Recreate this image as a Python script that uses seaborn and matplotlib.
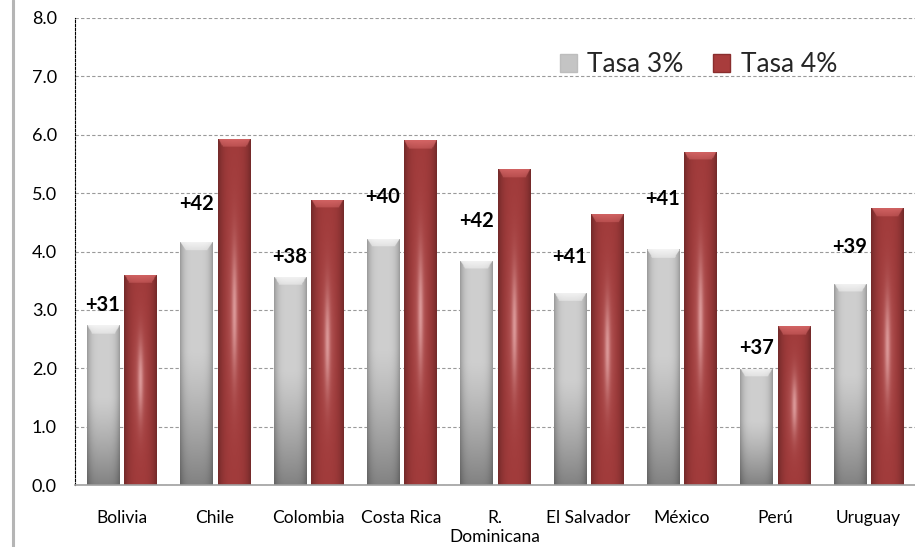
import numpy as np
import pandas as pd
import matplotlib
matplotlib.use("Agg")
import matplotlib.pyplot as plt
import seaborn as sns
from matplotlib.lines import Line2D
from matplotlib.patches import Patch

paises = ["Bolivia", "Chile", "Colombia", "Costa Rica", "R.\nDominicana",
          "El Salvador", "México", "Perú", "Uruguay"]
tasa3 = [2.74, 4.17, 3.57, 4.22, 3.84, 3.29, 4.04, 1.99, 3.45]
tasa4 = [3.60, 5.93, 4.89, 5.91, 5.42, 4.65, 5.71, 2.72, 4.75]
incrementos = ["+31", "+42", "+38", "+40", "+42", "+41", "+41", "+37", "+39"]
altura_etiqueta = [3.09, 4.82, 3.90, 4.94, 4.53, 3.91, 4.90, 2.34, 4.07]
series = ["Tasa 3%", "Tasa 4%"]
yticks = [0, 1, 2, 3, 4, 5, 6, 7, 8]

sns.set_style("white")
plt.rcParams["font.family"] = ["Lato", "DejaVu Sans"]

df = pd.DataFrame({
    "pais": paises * 2,
    "valor": tasa3 + tasa4,
    "serie": [series[0]] * len(paises) + [series[1]] * len(paises),
})

GRAY = "#c8c8c8"
RED = "#a33b3b"

fig = plt.figure(figsize=(9.15, 5.47), dpi=100)
ax = fig.add_axes([75 / 915, 1 - 485 / 547, 840 / 915, 467 / 547])

sns.barplot(data=df, x="pais", y="valor", hue="serie", palette=[GRAY, RED],
            gap=0.14, width=0.8, legend=False, ax=ax, errorbar=None,
            order=paises, hue_order=series)


def bar_rgb(kind, h):
    ny, nx = 240, 48
    u = np.linspace(0, 1, nx)[None, :]
    v = np.linspace(0, 1, ny)[:, None]
    edge = np.abs(2 * u - 1)
    bevel = min(0.14 / max(h, 0.2), 0.3)
    if kind == 0:
        base = 0.81 - 0.30 * np.clip((0.55 - v) / 0.55, 0, 1) ** 1.2
        shade = base * (1 - 0.25 * edge ** 4)
        rgb = np.dstack([shade * np.ones((ny, nx))] * 3)
        top = np.array([0.98, 0.98, 0.98])
    else:
        base = np.array([0.63, 0.23, 0.23])
        shade = (1 - 0.28 * edge ** 3)[..., None]
        rgb = base[None, None, :] * shade * np.ones((ny, nx, 1))
        hl = (0.50 * np.exp(-((u - 0.5) / 0.08) ** 2) * np.exp(-((v - 0.5) / 0.17) ** 2)
              + 0.22 * np.exp(-((u - 0.5) / 0.22) ** 2) * np.exp(-((v - 0.5) / 0.26) ** 2))
        hl = np.clip(hl, 0, 1)[..., None]
        rgb = rgb * (1 - hl) + hl * np.array([0.95, 0.74, 0.74])[None, None, :]
        top = np.array([0.86, 0.42, 0.42])
    t = np.clip((v - (1 - bevel)) / bevel, 0, 1)
    inside = (t > 0) & (edge < 1 - 0.3 * (1 - t))
    m = (inside * (0.5 + 0.5 * t))[..., None] * 0.85
    rgb = rgb * (1 - m) + m * top[None, None, :]
    return np.clip(rgb, 0, 1)


bars = list(ax.patches)
n = len(paises)
for k, patch in enumerate(bars):
    kind = 0 if k < n else 1
    x0, y0 = patch.get_x(), patch.get_y()
    w, h = patch.get_width(), patch.get_height()
    img = bar_rgb(kind, h)
    im = ax.imshow(img, extent=(x0, x0 + w, y0, y0 + h), origin="lower",
                   aspect="auto", interpolation="bilinear", zorder=2)
    im.set_clip_path(patch)
    patch.set_zorder(1.9)
    patch.set_edgecolor("none")

for i, patch in enumerate(bars[:n]):
    cx = patch.get_x() + patch.get_width() / 2
    ax.text(cx, altura_etiqueta[i], incrementos[i], ha="center", va="center",
            fontsize=14.5, fontweight="bold", color="black", zorder=5)

ax.set_xlim(-0.5, len(paises) - 0.5)
ax.set_ylim(0, 8)
ax.set_yticks(yticks)
ax.set_yticklabels([f"{t:.1f}" for t in yticks])
ax.set_xlabel("")
ax.set_ylabel("")
ax.tick_params(axis="both", length=0, colors="black")
ax.tick_params(axis="y", pad=13, labelsize=13)
ax.tick_params(axis="x", pad=18, labelsize=12.5)

ax.set_axisbelow(True)
ax.yaxis.grid(True, linestyle=(0, (3, 2)), color="#9a9a9a", linewidth=0.8)
ax.xaxis.grid(False)
for s in ["top", "right"]:
    ax.spines[s].set_visible(False)
ax.spines["left"].set_linestyle((0, (2, 1.5)))
ax.spines["left"].set_color("black")
ax.spines["left"].set_linewidth(0.8)
ax.spines["bottom"].set_color("#a0a0a0")
ax.spines["bottom"].set_linewidth(1.2)

handles = [Patch(facecolor="#c4c4c4", edgecolor="#bdbdbd"),
           Patch(facecolor="#a83c3c", edgecolor="#8a2e2e")]
ax.legend(handles, series, loc="center", bbox_to_anchor=(0.742, 0.900),
          ncol=2, frameon=False, fontsize=19, handlelength=0.65,
          handleheight=0.65, handletextpad=0.4, columnspacing=1.1)

fig.add_artist(Line2D([13 / 915, 13 / 915], [0, 1], color="#b5b5b5",
                      linewidth=2.2, transform=fig.transFigure))

fig.savefig("out.png", dpi=100)
